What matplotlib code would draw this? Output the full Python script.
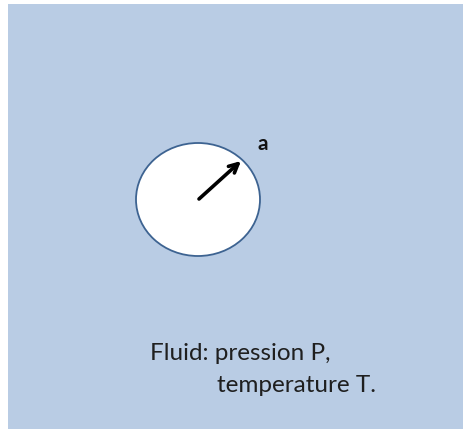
import matplotlib.pyplot as plt
from matplotlib.patches import Rectangle, Ellipse

# diagram values (pixel units of the picture)
fluid_box = [8, 4, 456, 425]          # x, y, width, height
bubble_center = [198, 199.5]
bubble_size = [124, 113]              # width, height
arrow_start = [199, 199]
arrow_end = [241, 161]
radius_label = "a"
fluid_lines = ["Fluid: pression P,", "temperature T."]

fig = plt.figure(figsize=(4.64, 4.29), dpi=100)
ax = fig.add_axes([0, 0, 1, 1])
ax.set_xlim(0, 464)
ax.set_ylim(429, 0)
ax.axis('off')

ax.add_patch(Rectangle(fluid_box[:2], fluid_box[2], fluid_box[3],
                       facecolor='#b9cce4', edgecolor='none'))
ax.add_patch(Ellipse(bubble_center, bubble_size[0], bubble_size[1],
                     facecolor='white', edgecolor='#3d6391', linewidth=1.3))

ax.annotate('', xy=arrow_end, xytext=arrow_start,
            arrowprops=dict(arrowstyle='->', color='black', lw=2.6,
                            mutation_scale=16, shrinkA=0, shrinkB=0))

ax.text(258, 144, radius_label, fontsize=15, fontweight='bold',
        family='Lato', color='#111111', va='center', ha='left')
ax.text(150, 354, fluid_lines[0], fontsize=17.5, family='Lato',
        color='#1f1f1f', va='center', ha='left')
ax.text(217, 386, fluid_lines[1], fontsize=17.5, family='Lato',
        color='#1f1f1f', va='center', ha='left')

fig.savefig('out.png', dpi=100)
